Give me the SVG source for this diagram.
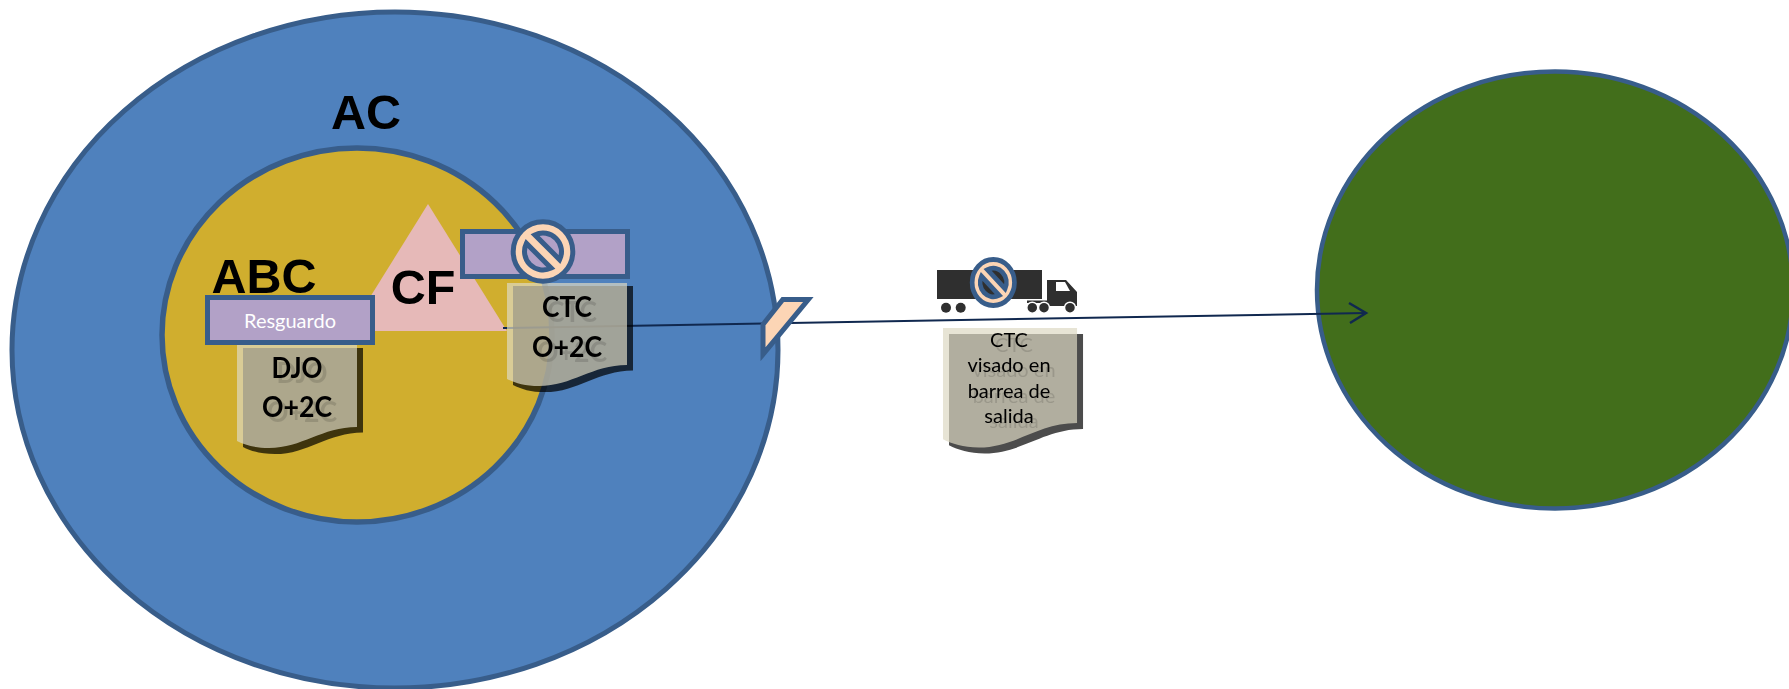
<svg xmlns="http://www.w3.org/2000/svg" width="1789" height="689" viewBox="0 0 1789 689">
<style>
.big{font-family:"Liberation Sans",Arial,sans-serif;font-weight:700;font-size:48.5px;fill:#000;text-anchor:middle}
.lbl{font-family:Lato,"Open Sans",sans-serif;text-anchor:middle;fill:#000;filter:drop-shadow(5px 5px 0.5px rgba(0,0,0,.13))}
.b{font-weight:700;font-size:29px}
.r{font-size:20px}
.bar{fill:#b2a1c7;stroke:#385d8a;stroke-width:5}
.dark{fill:#000;fill-opacity:.7}
.light{fill:#ddd9c3;fill-opacity:.7}
.no{fill:#fcd5b5;fill-rule:evenodd;stroke:#385d8a}
.tr{fill:#2f2f2f}
.line{fill:none;stroke:#10284f;stroke-width:2}
</style>
<defs>
<path id="doc" d="M0 0H120V82C85 82 65 103 32 103C18 103 8 100 0 96Z"/>
<path id="nosign" d="M-29.800 0A29.800 29.800 0 1 0 29.800 0A29.800 29.800 0 1 0 -29.800 0ZM-8.130 -16.610A18.500 18.500 0 0 1 16.610 8.130ZM8.130 16.610A18.500 18.500 0 0 1 -16.610 -8.130Z"/>
</defs>
<g id="AC"><ellipse cx="395" cy="350" rx="383" ry="338" fill="#4f81bd" stroke="#385d8a" stroke-width="5"/><text class="big" x="366" y="129">AC</text></g>
<g id="ABC"><ellipse cx="357" cy="335" rx="195" ry="187" fill="#d0ae2e" stroke="#385d8a" stroke-width="5.500"/><text class="big" x="264" y="293">ABC</text></g>
<g id="destino"><ellipse cx="1555" cy="290" rx="238" ry="218.500" fill="#426e1b" stroke="#385d8a" stroke-width="4.500"/></g>
<g id="CF"><polygon points="428,204 349,331 507,331" fill="#e6b9b8"/><text class="big" x="423" y="304">CF</text></g>
<g id="connectors"><path class="line" d="M503 328L1366 313"/><path class="line" style="stroke-width:2.500" d="M1349 303L1366 313L1350 323"/></g>
<g id="doc-DJO"><use href="#doc" class="dark" transform="translate(243 348) scale(1 1.03)"/><use href="#doc" class="light" transform="translate(237 345)"/><text class="lbl b" x="297" y="378" textLength="51" lengthAdjust="spacingAndGlyphs">DJO</text><text class="lbl b" x="297" y="417" textLength="70" lengthAdjust="spacingAndGlyphs">O+2C</text></g>
<g id="doc-CTC"><use href="#doc" class="dark" transform="translate(513 286) scale(1 1.03)"/><use href="#doc" class="light" transform="translate(507 283)"/><text class="lbl b" x="567" y="317" textLength="50" lengthAdjust="spacingAndGlyphs">CTC</text><text class="lbl b" x="567" y="357" textLength="70" lengthAdjust="spacingAndGlyphs">O+2C</text></g>
<g id="doc-visado"><use href="#doc" class="dark" transform="translate(949 334) scale(1.117 1.160)"/><use href="#doc" class="light" transform="translate(943 328) scale(1.117 1.160)"/><text class="lbl r" x="1009" y="347">CTC</text><text class="lbl r" x="1009" y="372">visado en</text><text class="lbl r" x="1009" y="398">barrea de</text><text class="lbl r" x="1009" y="423">salida</text></g>
<g id="resguardo"><rect class="bar" x="207.500" y="297.500" width="165" height="45"/><text x="290" y="328" font-family="Lato,'Open Sans',sans-serif" font-size="20" fill="#fff" text-anchor="middle">Resguardo</text></g>
<g id="bar-bloqueada"><rect class="bar" x="462.500" y="231.500" width="165" height="45"/><use href="#nosign" class="no" stroke-width="5" transform="translate(543 251.500)"/></g>
<g id="barrera"><polygon points="782.800,299.500 808.300,299.500 763,354.300 763,324.500" fill="#fcd5b5" stroke="#385d8a" stroke-width="5"/></g>
<g id="camion">
<rect class="tr" x="937" y="270" width="105" height="29"/>
<circle class="tr" cx="946" cy="307.700" r="5"/><circle class="tr" cx="960.700" cy="307.700" r="5"/>
<path class="tr" d="M1027 300.500H1047V303H1027ZM1047 280H1066L1077 292V306H1047Z"/>
<polygon points="1056,282 1065,282 1070,291 1056,291" fill="#fff"/>
<g class="tr" stroke="#fff" stroke-width="1.500"><circle cx="1032.300" cy="307.700" r="5.500"/><circle cx="1044" cy="307.700" r="5.500"/><circle cx="1070" cy="307.700" r="5.500"/></g>
<use href="#nosign" class="no" stroke-width="6.600" transform="translate(993.300 282.500) scale(.71 .77)"/>
</g>
</svg>
